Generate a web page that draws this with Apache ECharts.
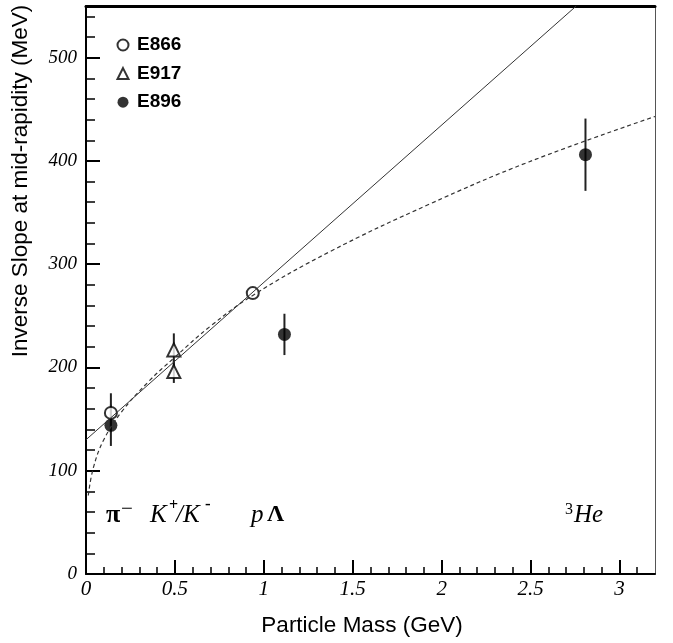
<!DOCTYPE html>
<html>
<head>
<meta charset="utf-8">
<script src="https://cdn.jsdelivr.net/npm/echarts@6/dist/echarts.min.js"></script>
<style>
html,body{margin:0;padding:0;background:#fff;}
#chart{width:673px;height:643px;}
</style>
</head>
<body>
<div id="chart"></div>
<script>
// ---- data ----
const e866Mass  = [0.140, 0.938];
const e866Slope = [156, 272];
const e866Err   = [19, 0];

const e917Mass  = [0.494, 0.494];
const e917Slope = [217, 196];
const e917Err   = [16, 11];

const e896Mass  = [0.140, 1.116, 2.809];
const e896Slope = [144, 232, 406];
const e896Err   = [20, 20, 35];

// linear fit (solid) endpoints
const linFitMass  = [0, 2.757];
const linFitSlope = [130, 550];

// dashed fit curve
const curveFitMass  = [0.013, 0.04, 0.1, 0.2, 0.35, 0.5, 0.7, 0.94, 1.37, 1.93, 2.49, 3.2];
const curveFitSlope = [76, 102, 130, 157, 186, 210, 240, 270, 312, 358, 399, 443];

// axis ticks
const xMajorTicks = [0, 0.5, 1, 1.5, 2, 2.5, 3];
const xTickLabels = ['0', '0.5', '1', '1.5', '2', '2.5', '3'];
const xMinorTicks = [0.1,0.2,0.3,0.4,0.6,0.7,0.8,0.9,1.1,1.2,1.3,1.4,1.6,1.7,1.8,1.9,2.1,2.2,2.3,2.4,2.6,2.7,2.8,2.9,3.1];
const yMajorTicks = [0, 100, 200, 300, 400, 500];
const yTickLabels = ['0', '100', '200', '300', '400', '500'];
const yMinorTicks = [20,40,60,80,120,140,160,180,220,240,260,280,320,340,360,380,420,440,460,480,520,540];

const seriesNames = ['E866', 'E917', 'E896'];

// ---- build ----
const chart = echarts.init(document.getElementById('chart'), null, {renderer: 'canvas'});

const serif = 'Liberation Serif';
const sans = 'Liberation Sans';

function pts(xs, ys) { return xs.map((x, i) => [x, ys[i]]); }
function errData(xs, ys, es) { return xs.map((x, i) => [x, ys[i] - es[i], ys[i] + es[i]]); }

function errSeries(xs, ys, es) {
  return {
    type: 'custom', xAxisIndex: 0, yAxisIndex: 0, z: 2, silent: true,
    data: errData(xs, ys, es),
    renderItem: function (params, api) {
      const lo = api.coord([api.value(0), api.value(1)]);
      const hi = api.coord([api.value(0), api.value(2)]);
      return {type: 'line', shape: {x1: lo[0], y1: lo[1], x2: hi[0], y2: hi[1]},
              style: {stroke: '#222', lineWidth: 2}};
    }
  };
}

const xLabelFmt = v => { const i = xMajorTicks.findIndex(t => Math.abs(t - v) < 1e-6); return i >= 0 ? xTickLabels[i] : ''; };
const yLabelFmt = v => { const i = yMajorTicks.findIndex(t => Math.abs(t - v) < 1e-6); return i >= 0 ? yTickLabels[i] : ''; };

function txt(x, y, text, size, opts) {
  return {type: 'text', x: x, y: y, silent: true,
          style: Object.assign({text: text, align: 'left', verticalAlign: 'middle',
                                fontFamily: serif, fontSize: size, fill: '#000'}, opts || {})};
}

const option = {
  backgroundColor: '#fff',
  animation: false,
  grid: {left: 86, top: 6, right: 18, bottom: 69, containLabel: false},
  legend: {
    orient: 'vertical', left: 111.5, top: 30.5, itemGap: 9.6, padding: 5,
    itemWidth: 11, itemHeight: 11, itemStyle: {borderWidth: 1.2},
    data: seriesNames,
    textStyle: {fontFamily: sans, fontWeight: 'bold', fontSize: 19, color: '#000', lineHeight: 19, padding: [0, 0, 0, 3.5]}
  },
  xAxis: [
    {type: 'value', position: 'bottom', min: 0, max: 3.2,
     axisLine: {show: true, onZero: false, lineStyle: {color: '#000', width: 2}},
     axisTick: {show: true, inside: true, length: 14, lineStyle: {color: '#000', width: 2}, customValues: xMajorTicks},
     axisLabel: {show: true, margin: 5, customValues: xMajorTicks, formatter: xLabelFmt,
                 fontFamily: serif, fontStyle: 'italic', fontSize: 21, color: '#000'},
     splitLine: {show: false}},
    {type: 'value', position: 'bottom', min: 0, max: 3.2,
     axisLine: {show: false, onZero: false},
     axisTick: {show: true, inside: true, length: 7, lineStyle: {color: '#000', width: 1.5}, customValues: xMinorTicks},
     axisLabel: {show: false}, splitLine: {show: false}},
    {type: 'value', position: 'top', min: 0, max: 3.2,
     axisLine: {show: true, onZero: false, lineStyle: {color: '#000', width: 3}},
     axisTick: {show: false}, axisLabel: {show: false}, splitLine: {show: false}}
  ],
  yAxis: [
    {type: 'value', position: 'left', min: 0, max: 550,
     axisLine: {show: true, onZero: false, lineStyle: {color: '#000', width: 2}},
     axisTick: {show: true, inside: true, length: 14, lineStyle: {color: '#000', width: 2}, customValues: yMajorTicks},
     axisLabel: {show: true, margin: 9, customValues: yMajorTicks, formatter: yLabelFmt,
                 fontFamily: serif, fontStyle: 'italic', fontSize: 19, color: '#000'},
     splitLine: {show: false}},
    {type: 'value', position: 'left', min: 0, max: 550,
     axisLine: {show: false, onZero: false},
     axisTick: {show: true, inside: true, length: 9, lineStyle: {color: '#000', width: 1.5}, customValues: yMinorTicks},
     axisLabel: {show: false}, splitLine: {show: false}},
    {type: 'value', position: 'right', min: 0, max: 550,
     axisLine: {show: true, onZero: false, lineStyle: {color: '#555', width: 1}},
     axisTick: {show: false}, axisLabel: {show: false}, splitLine: {show: false}}
  ],
  series: [
    errSeries(e866Mass, e866Slope, e866Err),
    errSeries(e917Mass, e917Slope, e917Err),
    errSeries(e896Mass, e896Slope, e896Err),
    {name: 'E866', type: 'scatter', xAxisIndex: 0, yAxisIndex: 0, z: 3,
     symbol: 'emptyCircle', symbolSize: 12, data: pts(e866Mass, e866Slope),
     itemStyle: {color: '#000', borderColor: '#000', borderWidth: 1.5}},
    {name: 'E917', type: 'scatter', xAxisIndex: 0, yAxisIndex: 0, z: 3,
     symbol: 'emptyTriangle', symbolSize: 13, data: pts(e917Mass, e917Slope),
     itemStyle: {color: '#000', borderColor: '#000', borderWidth: 1.3}},
    {name: 'E896', type: 'scatter', xAxisIndex: 0, yAxisIndex: 0, z: 3,
     symbol: 'circle', symbolSize: 13, data: pts(e896Mass, e896Slope),
     itemStyle: {color: '#000'}},
    {name: 'linear fit', type: 'line', xAxisIndex: 0, yAxisIndex: 0, z: 4,
     data: pts(linFitMass, linFitSlope), showSymbol: false, symbol: 'none', clip: true,
     lineStyle: {color: '#333', width: 1, type: 'solid'}},
    {name: 'curve fit', type: 'line', xAxisIndex: 0, yAxisIndex: 0, z: 4,
     data: pts(curveFitMass, curveFitSlope), showSymbol: false, symbol: 'none', smooth: 0.4, clip: true,
     lineStyle: {color: '#333', width: 1.2, type: [4, 3]}}
  ],
  graphic: [
    {type: 'text', x: 21, y: 181, rotation: Math.PI / 2, silent: true,
     style: {text: 'Inverse Slope at mid-rapidity (MeV)', x: 0, y: 0, align: 'center', verticalAlign: 'middle',
             fontFamily: sans, fontSize: 22.5, fill: '#000'}},
    {type: 'text', x: 362, y: 626, silent: true,
     style: {text: 'Particle Mass (GeV)', align: 'center', verticalAlign: 'middle',
             fontFamily: sans, fontSize: 22.5, fill: '#000'}},
    // particle annotations
    txt(106, 515, 'π', 26, {fontWeight: 'bold'}),
    txt(121, 509, '−', 21),
    txt(150, 515, 'K', 25, {fontStyle: 'italic'}),
    txt(169, 506, '+', 16, {fontWeight: 'bold'}),
    txt(176, 515, '/K', 25, {fontStyle: 'italic'}),
    txt(205, 505, '-', 17, {fontWeight: 'bold'}),
    txt(251, 515, 'p', 25, {fontStyle: 'italic'}),
    txt(267, 515, 'Λ', 24, {fontWeight: 'bold'}),
    txt(565, 510, '3', 16),
    txt(574, 515, 'He', 25, {fontStyle: 'italic'})
  ]
};

chart.setOption(option);
</script>
</body>
</html>
